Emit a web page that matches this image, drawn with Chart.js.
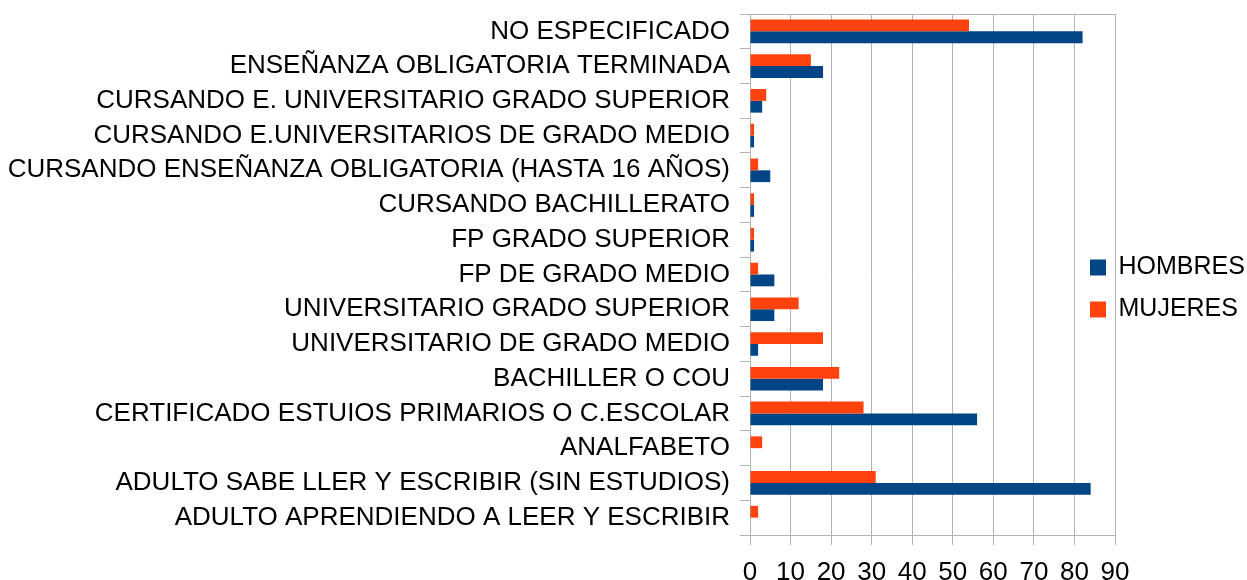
<!DOCTYPE html>
<html>
<head>
<meta charset="utf-8">
<script src="https://cdn.jsdelivr.net/npm/chart.js@4/dist/chart.umd.min.js"></script>
<style>
  body { margin: 0; background: #fff; }
  #caja { width: 1247px; height: 580px; }
</style>
</head>
<body>
<div id="caja"><canvas id="grafico"></canvas></div>
<script>
const categorias = [
  'NO ESPECIFICADO',
  'ENSEÑANZA OBLIGATORIA TERMINADA',
  'CURSANDO E. UNIVERSITARIO GRADO SUPERIOR',
  'CURSANDO E.UNIVERSITARIOS DE GRADO MEDIO',
  'CURSANDO ENSEÑANZA OBLIGATORIA (HASTA 16 AÑOS)',
  'CURSANDO BACHILLERATO',
  'FP GRADO SUPERIOR',
  'FP DE GRADO MEDIO',
  'UNIVERSITARIO GRADO SUPERIOR',
  'UNIVERSITARIO DE GRADO MEDIO',
  'BACHILLER O COU',
  'CERTIFICADO ESTUIOS PRIMARIOS O C.ESCOLAR',
  'ANALFABETO',
  'ADULTO SABE LLER Y ESCRIBIR (SIN ESTUDIOS)',
  'ADULTO APRENDIENDO A LEER Y ESCRIBIR'
];
const hombres = [82, 18, 3, 1, 5, 1, 1, 6, 6, 2, 18, 56, 0, 84, 0];
const mujeres = [54, 15, 4, 1, 2, 1, 1, 2, 12, 18, 22, 28, 3, 31, 2];

Chart.defaults.font.family = "'Liberation Sans', Arial, sans-serif";
Chart.defaults.color = '#000';

const gris = '#b3b3b3';

// la leyenda se dibuja encima del borde derecho del area, como en el original
const moverLeyenda = {
  id: 'moverLeyenda',
  afterLayout(chart) {
    const ley = chart.legend;
    const area = chart.chartArea;
    const w = ley.width;
    ley.left = area.right - 42;
    ley.right = ley.left + w;
    ley.top += 28;
    ley.bottom += 28;
  }
};

new Chart(document.getElementById('grafico'), {
  type: 'bar',
  data: {
    labels: categorias,
    datasets: [
      { label: 'MUJERES', data: mujeres, backgroundColor: '#ff420e', borderWidth: 0 },
      { label: 'HOMBRES', data: hombres, backgroundColor: '#004586', borderWidth: 0 }
    ]
  },
  options: {
    indexAxis: 'y',
    responsive: true,
    maintainAspectRatio: false,
    animation: false,
    layout: { padding: { top: 14, right: 132, left: 0, bottom: 0 } },
    datasets: { bar: { categoryPercentage: 0.68, barPercentage: 1.0 } },
    scales: {
      x: {
        min: 0,
        max: 90,
        ticks: { stepSize: 10, font: { size: 26 }, padding: 12 },
        grid: { color: gris, tickLength: 10, tickColor: gris },
        border: { color: gris },
        afterFit: (scale) => { scale.height = 45; scale.paddingLeft = 0; scale.paddingRight = 0; }
      },
      y: {
        ticks: { font: { size: 26 }, padding: 10 },
        grid: {
          offset: true,
          color: (c) => c.index === 0 ? gris : 'rgba(0,0,0,0)',
          tickColor: gris,
          tickLength: 10
        },
        border: { color: gris },
        afterFit: (scale) => { scale.width = 750; scale.paddingTop = 0; scale.paddingBottom = 0; }
      }
    },
    plugins: {
      legend: {
        position: 'chartArea',
        reverse: true,
        labels: { boxWidth: 16, boxHeight: 16, padding: 17, font: { size: 25 } }
      },
      tooltip: { enabled: false }
    }
  },
  plugins: [moverLeyenda]
});
</script>
</body>
</html>
